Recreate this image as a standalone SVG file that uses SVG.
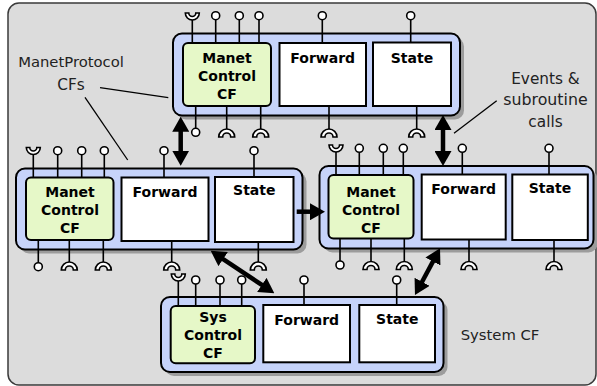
<svg xmlns="http://www.w3.org/2000/svg" xmlns:xlink="http://www.w3.org/1999/xlink" width="597" height="386" viewBox="0 0 597 386">
  <style>
    .frame { fill: #dcdcdc; stroke: #3a3a3a; stroke-width: 1.5; }
    .shadow { fill: #9c9c9c; }
    .cf { fill: #c6d3fa; stroke: #000; stroke-width: 2; }
    .ctl { fill: #e6f8c8; stroke: #000; stroke-width: 2; }
    .comp { fill: #fff; stroke: #000; stroke-width: 2; }
    .stem { stroke: #000; stroke-width: 1.6; fill: none; }
    .port { fill: #fff; stroke: #000; stroke-width: 1.6; }
    .lbl { font-family: "DejaVu Sans", Verdana, sans-serif; font-weight: bold; font-size: 14px; fill: #000; text-anchor: middle; }
    .note { font-family: "DejaVu Sans", Tahoma, sans-serif; font-size: 15.3px; fill: #222; text-anchor: middle; }
    .lead { stroke: #000; stroke-width: 1.3; fill: none; }
    .arrow { stroke: #000; stroke-width: 4.5; fill: none; }
  </style>
  <defs>
    <!-- required interface: cup opening upward -->
    <path id="cup" d="M-7,0 A7,7 0 0 0 7,0 L3.5,0 A3.5,3.5 0 0 1 -3.5,0 Z"/>
    <!-- receptacle: arch opening downward -->
    <path id="arch" d="M-8,0 A8,8 0 0 1 8,0 L4,0 A4,4 0 0 0 -4,0 Z"/>
    <marker id="head" viewBox="0 0 15 17" refX="5" refY="8.5" markerWidth="15" markerHeight="17" markerUnits="userSpaceOnUse" orient="auto-start-reverse">
      <path d="M0,0 L15,8.5 L0,17 Z" fill="#000"/>
    </marker>
  </defs>

  <rect class="frame" x="8" y="3" width="588" height="382" rx="11"/>

  <!-- annotations -->
  <g id="notes">
    <text class="note" x="71" y="66.5" style="font-size:14.8px">ManetProtocol</text>
    <text class="note" x="71" y="89.5">CFs</text>
    <text class="note" x="545.5" y="84">Events &amp;</text>
    <text class="note" x="545.5" y="105" style="font-size:15.8px">subroutine</text>
    <text class="note" x="545.5" y="126.5">calls</text>
    <text class="note" x="500" y="340" style="font-size:14.8px">System CF</text>
    <line class="lead" x1="100" y1="87.7" x2="168.3" y2="97.7"/>
    <line class="lead" x1="85" y1="97.3" x2="127.7" y2="160"/>
    <line class="lead" x1="496.7" y1="100.7" x2="454" y2="133.3"/>
  </g>

  <!-- top ManetProtocol CF -->
  <g id="cf-top">
    <rect class="shadow" x="177" y="37.5" width="287" height="82" rx="9"/>
    <rect class="cf" x="173" y="33.5" width="287" height="82" rx="9"/>
    <g class="stem">
      <path d="M192.3,20V43M215.7,20V43M239.3,20V43M259,20V43M322.3,20V43M410.7,20V42.5"/>
      <path d="M195.7,106V128M226.7,106V129M260.7,106V129M329,106V129M416.7,104V129"/>
    </g>
    <g class="port">
      <use xlink:href="#cup" x="192.3" y="13"/>
      <circle cx="215.7" cy="15.7" r="4"/><circle cx="239.3" cy="15.7" r="4"/><circle cx="259" cy="15.7" r="4"/>
      <circle cx="322.3" cy="15.7" r="4"/><circle cx="410.7" cy="15.7" r="4"/>
      <circle cx="195.7" cy="132.3" r="4"/>
      <use xlink:href="#arch" x="226.7" y="137"/><use xlink:href="#arch" x="260.7" y="137"/>
      <use xlink:href="#arch" x="329" y="137"/><use xlink:href="#arch" x="416.7" y="137"/>
    </g>
    <rect class="ctl" x="183" y="43" width="88" height="63" rx="5"/>
    <rect class="comp" x="279.5" y="43" width="86.5" height="63"/>
    <rect class="comp" x="373" y="42.5" width="78" height="63.5"/>
    <text class="lbl" x="227" y="63">Manet</text>
    <text class="lbl" x="227" y="81">Control</text>
    <text class="lbl" x="227" y="99">CF</text>
    <text class="lbl" x="322.7" y="63">Forward</text>
    <text class="lbl" x="412" y="62.5">State</text>
  </g>

  <!-- left ManetProtocol CF -->
  <g id="cf-left">
    <rect class="shadow" x="20" y="172.5" width="286.5" height="81" rx="9"/>
    <rect class="cf" x="16" y="168.5" width="286.5" height="81" rx="9"/>
    <g class="stem">
      <path d="M33.3,154.5V177.5M57.7,155V177.5M81.7,155V177.5M104.3,155V177.5M164,155V177.5M254,155V177"/>
      <path d="M38.3,240V262.5M69.3,240V262M103.3,240V262M171.7,241V262M258.3,240V262"/>
    </g>
    <g class="port">
      <use xlink:href="#cup" x="33.3" y="147.5"/>
      <circle cx="57.7" cy="150.7" r="4"/><circle cx="81.7" cy="150.7" r="4"/><circle cx="104.3" cy="150.7" r="4"/>
      <circle cx="164" cy="150.7" r="4"/><circle cx="254" cy="150.7" r="4"/>
      <circle cx="38.3" cy="266.7" r="4"/>
      <use xlink:href="#arch" x="69.3" y="270"/><use xlink:href="#arch" x="103.3" y="270"/>
      <use xlink:href="#arch" x="171.7" y="270"/><use xlink:href="#arch" x="258.3" y="270"/>
    </g>
    <rect class="ctl" x="26" y="177.5" width="87.5" height="62.5" rx="5"/>
    <rect class="comp" x="121.5" y="177.5" width="87" height="63.5"/>
    <rect class="comp" x="215" y="177" width="78.5" height="65"/>
    <text class="lbl" x="70" y="196.5">Manet</text>
    <text class="lbl" x="70" y="215">Control</text>
    <text class="lbl" x="70" y="233">CF</text>
    <text class="lbl" x="165" y="196.5">Forward</text>
    <text class="lbl" x="254.3" y="195">State</text>
  </g>

  <!-- right ManetProtocol CF -->
  <g id="cf-right">
    <rect class="shadow" x="323.5" y="170" width="274" height="82.5" rx="9"/>
    <rect class="cf" x="319.5" y="166" width="274" height="82.5" rx="9"/>
    <g class="stem">
      <path d="M336,152V175M359.3,152.5V175M383.3,152.5V175M403.3,152.5V175M462.3,152.5V174.5M549,152.5V174.5"/>
      <path d="M340,238.5V261M371,238.5V261.5M404.3,238.5V261.5M469,239.5V261.5M554,238V261.5"/>
    </g>
    <g class="port">
      <use xlink:href="#cup" x="336" y="145"/>
      <circle cx="359.3" cy="148.3" r="4"/><circle cx="383.3" cy="148.3" r="4"/><circle cx="403.3" cy="148.3" r="4"/>
      <circle cx="462.3" cy="148.3" r="4"/><circle cx="549" cy="148.3" r="4"/>
      <circle cx="340" cy="265" r="4"/>
      <use xlink:href="#arch" x="371" y="269.5"/><use xlink:href="#arch" x="404.3" y="269.5"/>
      <use xlink:href="#arch" x="469" y="269.5"/><use xlink:href="#arch" x="554" y="269.5"/>
    </g>
    <rect class="ctl" x="328.5" y="175" width="85" height="63.5" rx="5"/>
    <rect class="comp" x="421.7" y="174.5" width="84" height="65"/>
    <rect class="comp" x="512.3" y="174.5" width="75.5" height="65.5"/>
    <text class="lbl" x="371" y="196.5">Manet</text>
    <text class="lbl" x="371" y="215">Control</text>
    <text class="lbl" x="371" y="233">CF</text>
    <text class="lbl" x="463.7" y="194">Forward</text>
    <text class="lbl" x="550" y="193.3">State</text>
  </g>

  <!-- System CF -->
  <g id="cf-system">
    <rect class="shadow" x="165" y="301" width="282.5" height="75" rx="9"/>
    <rect class="cf" x="161" y="297" width="282.5" height="75" rx="9"/>
    <g class="stem">
      <path d="M178.3,281V306M195.7,284V306M220,284V306M241.7,284V306M304,284V305M396.7,284V305"/>
    </g>
    <g class="port">
      <use xlink:href="#cup" x="178.3" y="274"/>
      <circle cx="195.7" cy="280" r="4"/><circle cx="220" cy="280" r="4"/><circle cx="241.7" cy="280" r="4"/>
      <circle cx="304" cy="280" r="4"/><circle cx="396.7" cy="280" r="4"/>
    </g>
    <rect class="ctl" x="170.7" y="306" width="84.3" height="57.3" rx="5"/>
    <rect class="comp" x="263.3" y="305" width="86.7" height="57.3"/>
    <rect class="comp" x="359.3" y="305" width="75.7" height="57.3"/>
    <text class="lbl" x="213" y="321.5">Sys</text>
    <text class="lbl" x="213" y="340">Control</text>
    <text class="lbl" x="213" y="358">CF</text>
    <text class="lbl" x="306.7" y="325">Forward</text>
    <text class="lbl" x="397.3" y="324.3">State</text>
  </g>

  <!-- interactions between CFs -->
  <g id="connectors">
    <line class="arrow" x1="180.7" y1="126.7" x2="180.7" y2="155.7" marker-start="url(#head)" marker-end="url(#head)"/>
    <line class="arrow" x1="443" y1="125" x2="443" y2="156" marker-start="url(#head)" marker-end="url(#head)"/>
    <line class="arrow" x1="296.7" y1="211.7" x2="315" y2="211.7" marker-end="url(#head)"/>
    <line class="arrow" x1="219" y1="256.3" x2="266" y2="287.7" marker-start="url(#head)" marker-end="url(#head)"/>
    <line class="arrow" x1="435.3" y1="257.1" x2="419.7" y2="286.2" marker-start="url(#head)" marker-end="url(#head)"/>
  </g>
</svg>
